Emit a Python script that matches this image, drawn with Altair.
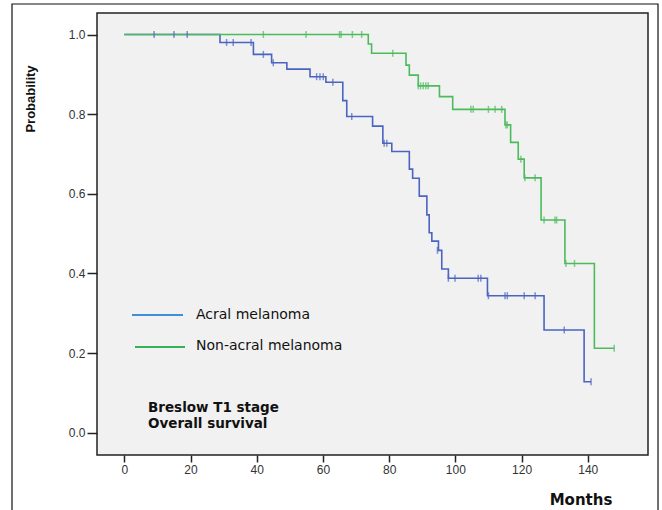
import altair as alt
import pandas as pd

# ---- data ----
groups = ["Acral melanoma", "Non-acral melanoma"]
colors = ["#4a64c2", "#4cbb5c"]

acral_t = [0, 28.9, 39.0, 44.5, 49.1, 56.1, 60.9, 66.0, 67.2, 75.0, 78.1, 80.8, 86.1, 87.1,
           89.1, 91.4, 92.1, 92.9, 94.9, 95.9, 97.9, 109.7, 126.8, 138.9, 141.0]
acral_p = [1.0, 0.980, 0.950, 0.929, 0.913, 0.894, 0.880, 0.834, 0.794, 0.770, 0.727, 0.706,
           0.662, 0.639, 0.594, 0.547, 0.502, 0.481, 0.458, 0.411, 0.388, 0.344, 0.258, 0.128, 0.128]
acral_cens_t = [9, 15, 19, 30.9, 32.9, 38.3, 42.0, 45.0, 58.1, 59.1, 60.1, 63.0, 68.7, 78.5, 79.3,
                94.6, 97.9, 99.9, 106.9, 107.7, 110.0, 115.0, 115.7, 120.8, 124.1, 132.9, 141.0]
acral_cens_p = [1.0, 1.0, 1.0, 0.980, 0.980, 0.980, 0.950, 0.929, 0.894, 0.894, 0.894, 0.880, 0.794,
                0.727, 0.727, 0.458, 0.388, 0.388, 0.388, 0.388, 0.344, 0.344, 0.344, 0.344, 0.344,
                0.258, 0.128]

non_t = [0, 73.7, 74.7, 85.1, 86.1, 88.8, 95.2, 99.2, 115.0, 116.7, 119.0, 120.8, 125.9, 133.1,
         142.0, 148.0]
non_p = [1.0, 0.976, 0.953, 0.923, 0.898, 0.871, 0.844, 0.812, 0.773, 0.729, 0.687, 0.640, 0.534,
         0.425, 0.212, 0.212]
non_cens_t = [42.0, 54.9, 65.0, 65.5, 68.9, 71.7, 81.1, 88.8, 89.5, 90.3, 91.1, 91.8, 104.7, 105.4,
              110.0, 112.0, 114.0, 115.3, 115.7, 119.8, 121.0, 124.1, 126.8, 130.1, 130.6, 133.4,
              136.0, 148.0]
non_cens_p = [1.0, 1.0, 1.0, 1.0, 1.0, 1.0, 0.953, 0.871, 0.871, 0.871, 0.871, 0.871, 0.812, 0.812,
              0.812, 0.812, 0.812, 0.773, 0.773, 0.687, 0.640, 0.640, 0.534, 0.534, 0.534, 0.425,
              0.425, 0.212]

x_ticks = [0, 20, 40, 60, 80, 100, 120, 140]
y_ticks = [0.0, 0.2, 0.4, 0.6, 0.8, 1.0]

curves = pd.concat([
    pd.DataFrame({"t": acral_t, "p": acral_p, "g": groups[0]}),
    pd.DataFrame({"t": non_t, "p": non_p, "g": groups[1]}),
])
cens = pd.concat([
    pd.DataFrame({"t": acral_cens_t, "p": acral_cens_p, "g": groups[0]}),
    pd.DataFrame({"t": non_cens_t, "p": non_cens_p, "g": groups[1]}),
])

W, H = 551, 442
FONT = "Liberation Sans"
TFONT = "DejaVu Sans"

xs = alt.Scale(domain=[-8.25, 158.2], nice=False, zero=False)
ys = alt.Scale(domain=[-0.056, 1.054], nice=False, zero=False)
cs = alt.Scale(domain=groups, range=colors)

x_enc = alt.X("t:Q", scale=xs, axis=alt.Axis(values=x_ticks, title=None, grid=False, domain=False,
              tickSize=7, tickWidth=1.5, tickColor="#222", labelFont=FONT, labelFontSize=12,
              labelColor="#333", labelPadding=2, format="d"))
y_enc = alt.Y("p:Q", scale=ys, axis=alt.Axis(values=y_ticks, title=None, grid=False, domain=False,
              tickSize=10, tickWidth=1.5, tickColor="#222", labelFont=FONT, labelFontSize=12,
              labelColor="#333", labelPadding=2, format=".1f"))

lines = alt.Chart(curves).mark_line(interpolate="step-after", strokeWidth=1.6).encode(
    x=x_enc, y=y_enc, color=alt.Color("g:N", scale=cs, legend=None)
)
ticks = alt.Chart(cens).mark_tick(orient="vertical", size=7, thickness=1.5).encode(
    x=alt.X("t:Q", scale=xs), y=alt.Y("p:Q", scale=ys), color=alt.Color("g:N", scale=cs, legend=None)
)

one = pd.DataFrame({"a": [0]})

border = alt.Chart(one).mark_rect(fill=None, stroke="#111", strokeWidth=1.2).encode(
    x=alt.value(-85), x2=alt.value(561), y=alt.value(-9), y2=alt.value(505)
)

leg_lines = alt.Chart(one).mark_rule(strokeWidth=2, color="#3f8ddc").encode(
    x=alt.value(35), x2=alt.value(86), y=alt.value(302)
) + alt.Chart(one).mark_rule(strokeWidth=2, color="#33b35a").encode(
    x=alt.value(38), x2=alt.value(88), y=alt.value(334)
)

def txt(s, x, y, size=13, weight="normal", font=TFONT, angle=0, align="left"):
    return alt.Chart(one).mark_text(text=s, fontSize=size, fontWeight=weight, font=font,
                                    align=align, baseline="middle", angle=angle,
                                    color="#111").encode(x=alt.value(x), y=alt.value(y))

labels = (
    txt(groups[0], 99, 302, size=14) +
    txt(groups[1], 99, 333, size=14) +
    txt("Breslow T1 stage", 51, 394.5, size=13.5, weight="bold") +
    txt("Overall survival", 51, 410.5, size=13.5, weight="bold") +
    txt("Probability", -66, 86, size=13, weight="bold", font=FONT, angle=270, align="center") +
    txt("Months", 484, 487, size=15, weight="bold", align="center")
)

chart = alt.layer(border, lines, ticks, leg_lines, labels).properties(
    width=W, height=H,
    autosize=alt.AutoSizeParams(type="none"),
    padding={"left": 97, "top": 13, "right": 14, "bottom": 55},
    background="white",
).configure_view(stroke="#222", strokeWidth=1.5, fill="#f1f1f1")

chart.save("out.html", embed_options={"renderer": "svg", "actions": False})
